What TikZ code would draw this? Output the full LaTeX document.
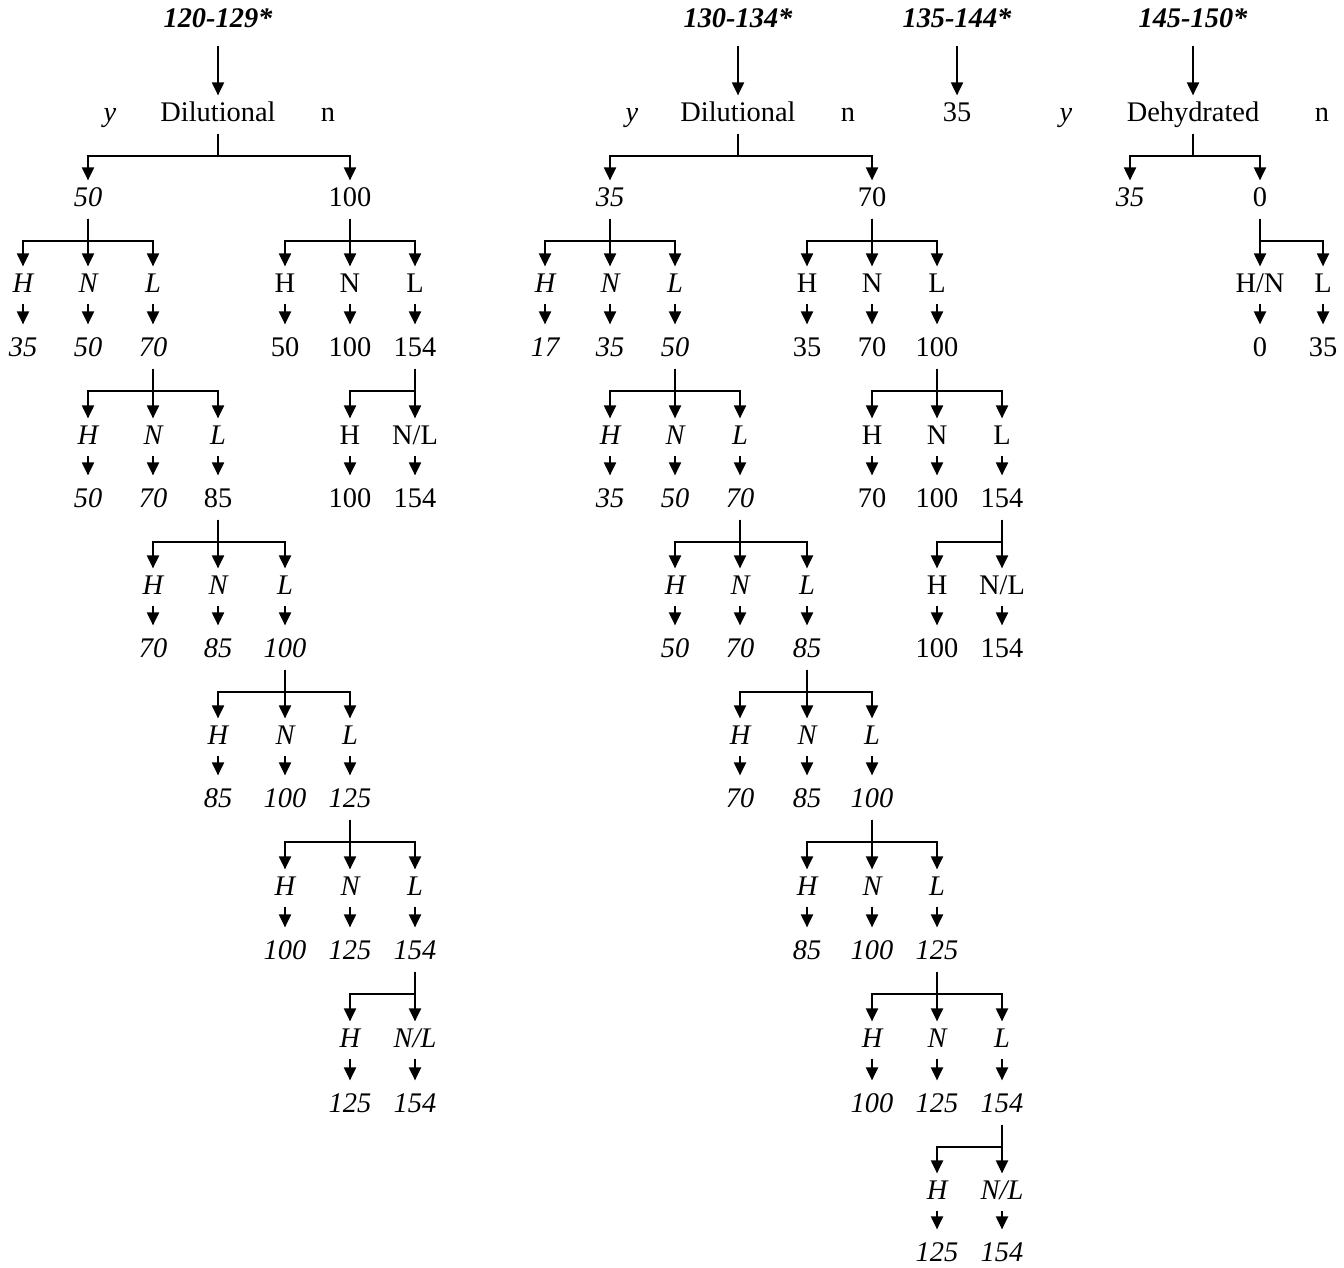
\documentclass[tikz,border=0pt]{standalone}
\usepackage{fontspec}
\setmainfont{Liberation Serif}
\usetikzlibrary{arrows.meta}
\tikzset{
  flow/.style={x=0.5pt,y=-0.5pt,line width=1pt,>={Triangle[width=6pt,length=6.5pt]},
    every node/.style={inner sep=3pt,text height=9.6pt,text depth=0pt,font=\fontsize{14.2}{17}\selectfont}},
  it/.style={font=\fontsize{14.2}{17}\selectfont\itshape},
  hdr/.style={font=\fontsize{14.2}{17}\selectfont\bfseries\itshape},
  split/.style={->,shorten <=2.5pt},
  tick/.style={->,shorten <=2pt,shorten >=3pt},
}

\begin{document}
\begin{tikzpicture}[flow]
  \useasboundingbox (0,0) rectangle (1344,1268);
  \foreach \nm/\x/\t in {ah/218/120-129*, bh/738/130-134*, ch/957/135-144*, dh/1193/145-150*}
    \node[hdr] (\nm) at (\x,18) {\t};
  \foreach \nm/\x/\t in {ad/218/Dilutional, an/328/n, bd/738/Dilutional, bn/848/n, c1/957/35, dd/1193/Dehydrated, dn/1322/n}
    \node (\nm) at (\x,112) {\t};
  \foreach \nm/\x in {ay/110, by/632, dy/1066}
    \node[it] (\nm) at (\x,112) {y};
  \foreach \nm/\x/\y/\t in {
      a2b/88/197/50,
      a3a/23/283/H, a3b/88/283/N, a3c/153/283/L,
      a4a/23/347/35, a4b/88/347/50, a4c/153/347/70,
      a5b/88/435/H, a5c/153/435/N, a5d/218/435/L,
      a6b/88/498/50, a6c/153/498/70,
      a7c/153/585/H, a7d/218/585/N, a7e/285/585/L,
      a8c/153/648/70, a8d/218/648/85, a8e/285/648/100,
      a9d/218/735/H, a9e/285/735/N, a9f/350/735/L,
      a10d/218/798/85, a10e/285/798/100, a10f/350/798/125,
      a11e/285/886/H, a11f/350/886/N, a11g/415/886/L,
      a12e/285/950/100, a12f/350/950/125, a12g/415/950/154,
      a13f/350/1038/H, a13g/415/1038/{N/L},
      a14f/350/1103/125, a14g/415/1103/154,
      b2b/610/197/35,
      b3a/545/283/H, b3b/610/283/N, b3c/675/283/L,
      b4a/545/347/17, b4b/610/347/35, b4c/675/347/50,
      b5b/610/435/H, b5c/675/435/N, b5d/740/435/L,
      b6b/610/498/35, b6c/675/498/50, b6d/740/498/70,
      b7c/675/585/H, b7d/740/585/N, b7e/807/585/L,
      b8c/675/648/50, b8d/740/648/70, b8e/807/648/85,
      b9d/740/735/H, b9e/807/735/N, b9f/872/735/L,
      b10d/740/798/70, b10e/807/798/85, b10f/872/798/100,
      b11e/807/886/H, b11f/872/886/N, b11g/937/886/L,
      b12e/807/950/85, b12f/872/950/100, b12g/937/950/125,
      b13f/872/1038/H, b13g/937/1038/N, b13h/1002/1038/L,
      b14f/872/1103/100, b14g/937/1103/125, b14h/1002/1103/154,
      b15g/937/1190/H, b15h/1002/1190/{N/L},
      b16g/937/1252/125, b16h/1002/1252/154,
      d2a/1130/197/35}
    \node[it] (\nm) at (\x,\y) {\t};
  \foreach \nm/\x/\y/\t in {
      a2f/350/197/100,
      a3e/285/283/H, a3f/350/283/N, a3g/415/283/L,
      a4e/285/347/50, a4f/350/347/100, a4g/415/347/154,
      a5f/350/435/H, a5g/415/435/{N/L},
      a6f/350/498/100, a6g/415/498/154, a6d/218/498/85,
      b2f/872/197/70,
      b3e/807/283/H, b3f/872/283/N, b3g/937/283/L,
      b4e/807/347/35, b4f/872/347/70, b4g/937/347/100,
      b5f/872/435/H, b5g/937/435/N, b5h/1002/435/L,
      b6f/872/498/70, b6g/937/498/100, b6h/1002/498/154,
      b7g/937/585/H, b7h/1002/585/{N/L},
      b8g/937/648/100, b8h/1002/648/154,
      d2c/1260/197/0,
      d3c/1260/283/{H/N}, d3d/1323/283/L,
      d4c/1260/347/0, d4d/1323/347/35}
    \node (\nm) at (\x,\y) {\t};
  \foreach \p/\c in {ah/ad, bh/bd, ch/c1, dh/dd}
    \draw[->,shorten <=5.5pt] (\p) -- (\c);
  \foreach \p/\c in {
      ad/a2b, ad/a2f, a2b/a3a, a2b/a3b, a2b/a3c, a2f/a3e, a2f/a3f, a2f/a3g,
      a4c/a5b, a4c/a5c, a4c/a5d, a4g/a5f, a4g/a5g, a6d/a7c, a6d/a7d, a6d/a7e,
      a8e/a9d, a8e/a9e, a8e/a9f, a10f/a11e, a10f/a11f, a10f/a11g, a12g/a13f, a12g/a13g,
      bd/b2b, bd/b2f, b2b/b3a, b2b/b3b, b2b/b3c, b2f/b3e, b2f/b3f, b2f/b3g,
      b4c/b5b, b4c/b5c, b4c/b5d, b4g/b5f, b4g/b5g, b4g/b5h, b6d/b7c, b6d/b7d, b6d/b7e,
      b6h/b7g, b6h/b7h, b8e/b9d, b8e/b9e, b8e/b9f, b10f/b11e, b10f/b11f, b10f/b11g,
      b12g/b13f, b12g/b13g, b12g/b13h, b14h/b15g, b14h/b15h,
      dd/d2a, dd/d2c, d2c/d3c, d2c/d3d}
    \draw[split] (\p.south) -- ++(0,27) -| (\c.north);
  \foreach \p/\c in {
      a3a/a4a, a3b/a4b, a3c/a4c, a3e/a4e, a3f/a4f, a3g/a4g, a5b/a6b, a5c/a6c, a5d/a6d,
      a5f/a6f, a5g/a6g, a7c/a8c, a7d/a8d, a7e/a8e, a9d/a10d, a9e/a10e, a9f/a10f,
      a11e/a12e, a11f/a12f, a11g/a12g, a13f/a14f, a13g/a14g,
      b3a/b4a, b3b/b4b, b3c/b4c, b3e/b4e, b3f/b4f, b3g/b4g, b5b/b6b, b5c/b6c, b5d/b6d,
      b5f/b6f, b5g/b6g, b5h/b6h, b7c/b8c, b7d/b8d, b7e/b8e, b7g/b8g, b7h/b8h,
      b9d/b10d, b9e/b10e, b9f/b10f, b11e/b12e, b11f/b12f, b11g/b12g,
      b13f/b14f, b13g/b14g, b13h/b14h, b15g/b16g, b15h/b16h,
      d3c/d4c, d3d/d4d}
    \draw[tick] (\p) -- (\c);
\end{tikzpicture}
\end{document}
